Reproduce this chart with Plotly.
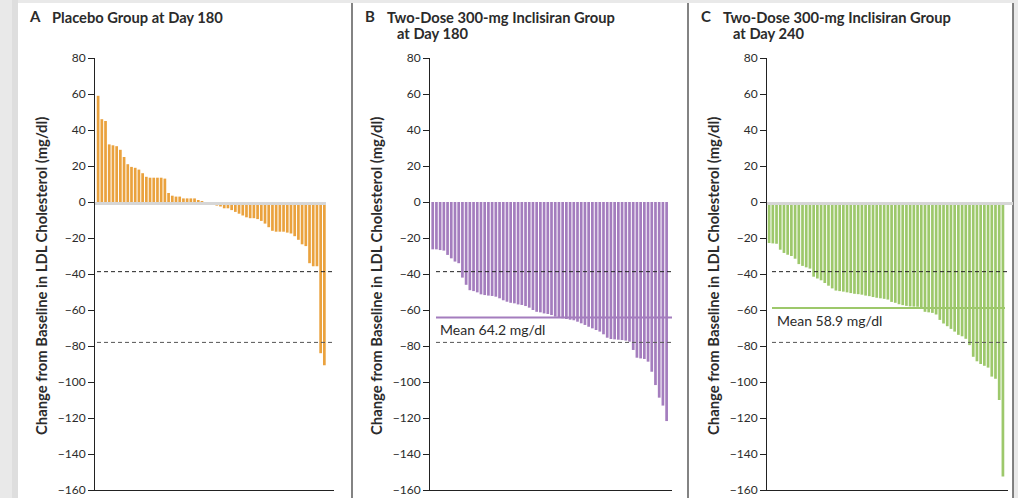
import plotly.graph_objects as go

W, H = 1018, 498

# Change from baseline in LDL cholesterol (mg/dl), one bar per patient, sorted
placebo_d180 = [59, 46, 45, 32, 31.5, 31, 29, 25, 21, 19.5, 19, 18, 16, 14, 13.5,
                13.5, 13.5, 13.5, 13, 5, 3.5, 3, 3, 2, 2, 2, 2, 1,
                0.3, -0.3, -0.6, -1.5, -2, -2.5, -3.5, -3.5, -4.5, -5.5, -6.5, -7.5,
                -8.5, -9, -9, -9.5, -10.5, -12, -14, -16, -16.5, -16.5, -16.5, -17,
                -17.5, -19, -21, -23.5, -24.5, -34, -35.7, -35.7, -84, -90.7]

inclisiran_d180 = [-26.3, -26.3, -26.7, -27, -29.4, -31.3, -33.1, -34, -42, -46,
                   -49, -49.5, -50.2, -51.3, -51.7, -52, -52.2, -52.6, -53.5, -54.6,
                   -55.4, -56, -56.3, -56.9, -57.2, -57.8, -58.7, -60, -61, -61.3,
                   -61.9, -62.2, -62.8, -63.7, -64.1, -64.6, -65, -65.4, -65.7, -66.5,
                   -67.4, -68.3, -69.3, -70.2, -71.1, -72, -73.5, -75.4, -76.1, -76.3,
                   -76.5, -76.7, -77, -77.6, -82.2, -86.5, -86.9, -87.2, -88.7, -94.3,
                   -101.7, -108.7, -113.1, -121.7]

inclisiran_d240 = [-22.8, -23, -23.2, -26.5, -28.3, -29.3, -30, -31.5, -34.5, -35.5,
                   -36.3, -37, -41.5, -42.5, -43.5, -45, -46.5, -48, -49.2, -49.5,
                   -49.8, -50.2, -50.6, -51, -51.2, -51.5, -52, -52.3, -52.8, -53.2,
                   -53.5, -53.8, -54.2, -55.5, -56, -56.8, -57.3, -57.7, -58, -58.1,
                   -58.2, -58.4, -61, -61.3, -61.6, -62.5, -65.5, -67.5, -69, -70.5,
                   -72, -73.8, -74.6, -76, -79.5, -86, -88.5, -90, -91, -92,
                   -97, -98.2, -110, -152.5]

y_ticks = list(range(-160, 81, 20))
reference_lines = [-38.7, -78.0]
mean_d180 = -64.2
mean_d240 = -58.9

FONT = "Lato"
TEXT = "#2b2b2b"


def px(x):
    return x / W


def py(y):
    return 1 - y / H


panels = [
    dict(vals=placebo_d180, color="#EAA23E", dom=(95, 334), xr=[-0.84, 63.6],
         band=(95, 326), dash=(97, 334), letter="A", lx=27,
         lines=[("Placebo Group at Day 180", 50)], mean=None),
    dict(vals=inclisiran_d180, color="#A47DBE", dom=(430, 672), xr=[-0.73, 64.45],
         band=None, dash=(436, 672), letter="B", lx=363,
         lines=[("Two-Dose 300-mg Inclisiran Group", 385), ("at Day 180", 395)],
         mean=(mean_d180, "Mean 64.2 mg/dl", 436, 672, 438, -71.0)),
    dict(vals=inclisiran_d240, color="#9DC86B", dom=(767, 1008), xr=[-0.57, 64.37],
         band=(767, 1013), dash=(772, 1008), letter="C", lx=699,
         lines=[("Two-Dose 300-mg Inclisiran Group", 721), ("at Day 240", 731)],
         mean=(mean_d240, "Mean 58.9 mg/dl", 772, 1005, 775, -66.0)),
]

fig = go.Figure()
shapes = [
    dict(type="rect", xref="paper", yref="paper", x0=px(18), x1=px(1013),
         y0=0, y1=py(3), fillcolor="white", line_width=0, layer="below"),
    dict(type="rect", xref="paper", yref="paper", x0=px(12), x1=px(18),
         y0=0, y1=1, fillcolor="#dedede", line_width=0, layer="below"),
]
for sx in (352, 688, 1013):
    shapes.append(dict(type="line", xref="paper", yref="paper", x0=px(sx), x1=px(sx),
                       y0=0, y1=py(3), line=dict(color="#5a5a5a", width=1.5)))

annotations = []
layout_axes = {}

for i, p in enumerate(panels, start=1):
    xa = "x" if i == 1 else f"x{i}"
    ya = "y" if i == 1 else f"y{i}"
    fig.add_trace(go.Bar(x=list(range(len(p["vals"]))), y=p["vals"],
                         marker=dict(color=p["color"], line_width=0),
                         xaxis=xa, yaxis=ya, hoverinfo="y"))
    xkey = "xaxis" if i == 1 else f"xaxis{i}"
    ykey = "yaxis" if i == 1 else f"yaxis{i}"
    layout_axes[xkey] = dict(domain=[px(p["dom"][0]), px(p["dom"][1])], range=p["xr"],
                             anchor=ya, showline=True, linecolor="#222", linewidth=1,
                             showticklabels=False, ticks="", showgrid=False,
                             zeroline=False, fixedrange=True, automargin=False)
    layout_axes[ykey] = dict(domain=[py(490), py(58)], range=[-160, 80], anchor=xa,
                             tickvals=y_ticks, ticks="outside", ticklen=6,
                             tickcolor="#222", tickwidth=1, showline=True,
                             linecolor="#222", linewidth=1, showgrid=False,
                             zeroline=False, tickfont=dict(family=FONT, size=12, color=TEXT),
                             fixedrange=True, automargin=False)

    # zero band
    if p["band"]:
        shapes.append(dict(type="line", xref="paper", yref=ya,
                           x0=px(p["band"][0]), x1=px(p["band"][1]), y0=-0.8, y1=-0.8,
                           line=dict(color="#d6d6d6", width=3), layer="above"))
    # reference lines
    for k, rv in enumerate(reference_lines):
        shapes.append(dict(type="line", xref="paper", yref=ya,
                           x0=px(p["dash"][0]), x1=px(p["dash"][1]), y0=rv, y1=rv,
                           line=dict(color="#222" if k == 0 else "#555", width=1,
                                     dash="4px,3px"), layer="above"))
    # mean line and label
    if p["mean"]:
        mv, mtxt, mx0, mx1, tx, ty = p["mean"]
        shapes.append(dict(type="line", xref="paper", yref=ya, x0=px(mx0), x1=px(mx1),
                           y0=mv, y1=mv, line=dict(color=p["color"], width=2),
                           layer="above"))
        annotations.append(dict(x=px(tx), y=ty, xref="paper", yref=ya, text=mtxt,
                                showarrow=False, xanchor="left", yanchor="middle",
                                font=dict(family=FONT, size=14, color=TEXT)))

    # y-axis title
    annotations.append(dict(x=px(p["dom"][0] - 54), y=py(276), xref="paper", yref="paper",
                            text="<b>Change from Baseline in LDL Cholesterol (mg/dl)</b>",
                            textangle=-90, showarrow=False, xanchor="center",
                            yanchor="middle",
                            font=dict(family=FONT, size=14.8, color=TEXT)))
    # panel letter and title
    annotations.append(dict(x=px(p["lx"]), y=py(16), xref="paper", yref="paper",
                            text=f"<b>{p['letter']}</b>", showarrow=False,
                            xanchor="left", yanchor="middle",
                            font=dict(family=FONT, size=15, color=TEXT)))
    for j, (ln, lx) in enumerate(p["lines"]):
        annotations.append(dict(x=px(lx), y=py(17 + 16 * j), xref="paper", yref="paper",
                                text=f"<b>{ln}</b>", showarrow=False,
                                xanchor="left", yanchor="middle",
                                font=dict(family=FONT, size=14.7, color=TEXT)))

fig.update_layout(template="none", width=W, height=H,
                  margin=dict(l=0, r=0, t=0, b=0, pad=0, autoexpand=False),
                  paper_bgcolor="#e9e9e9", plot_bgcolor="rgba(0,0,0,0)",
                  showlegend=False, bargap=0.27, shapes=shapes,
                  annotations=annotations, **layout_axes)

fig.write_html("out.html")
